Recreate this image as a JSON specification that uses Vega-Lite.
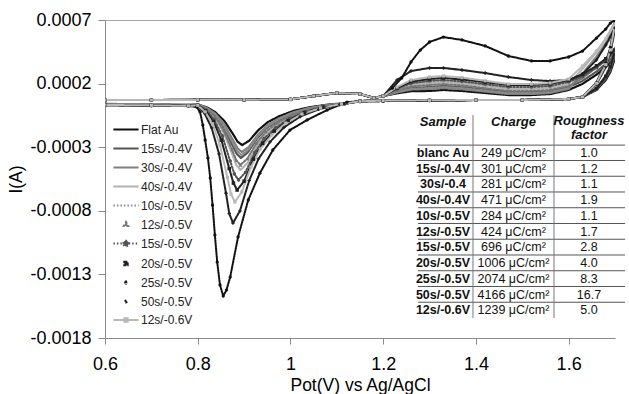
{
"$schema":"https://vega.github.io/schema/vega-lite/v6.json",
"width":510,"height":318,
"autosize":{"type":"none"},
"padding":{"left":105,"top":20,"right":14,"bottom":56},
"background":"white",
"config":{"view":{"stroke":null},"font":"Liberation Sans"},
"datasets":{
"cv":[
{"series":"Flat Au","pot":0.6,"cur":0.000071},{"series":"Flat Au","pot":0.7,"cur":0.000071},{"series":"Flat Au","pot":0.8,"cur":0.000072},{"series":"Flat Au","pot":0.9,"cur":0.000073},{"series":"Flat Au","pot":1.0,"cur":0.000076},{"series":"Flat Au","pot":1.05,"cur":0.000102},{"series":"Flat Au","pot":1.1,"cur":0.000126},{"series":"Flat Au","pot":1.15,"cur":0.000118},{"series":"Flat Au","pot":1.18,"cur":0.000087},{"series":"Flat Au","pot":1.2,"cur":0.000102},
{"series":"Flat Au","pot":1.23,"cur":0.000124},{"series":"Flat Au","pot":1.26,"cur":0.00014},{"series":"Flat Au","pot":1.3,"cur":0.000142},{"series":"Flat Au","pot":1.33,"cur":0.00015},{"series":"Flat Au","pot":1.37,"cur":0.000142},{"series":"Flat Au","pot":1.42,"cur":0.000126},{"series":"Flat Au","pot":1.47,"cur":0.00011},{"series":"Flat Au","pot":1.52,"cur":0.00011},{"series":"Flat Au","pot":1.56,"cur":0.000118},{"series":"Flat Au","pot":1.6,"cur":0.00015},{"series":"Flat Au","pot":1.63,"cur":0.000198},{"series":"Flat Au","pot":1.66,"cur":0.00027},{"series":"Flat Au","pot":1.68,"cur":0.000329},{"series":"Flat Au","pot":1.7,"cur":0.000401},
{"series":"Flat Au","pot":1.69,"cur":0.000291},{"series":"Flat Au","pot":1.68,"cur":0.000228},{"series":"Flat Au","pot":1.66,"cur":0.00015},{"series":"Flat Au","pot":1.63,"cur":0.000095},{"series":"Flat Au","pot":1.6,"cur":0.000079},{"series":"Flat Au","pot":1.5,"cur":0.000071},{"series":"Flat Au","pot":1.4,"cur":0.000071},{"series":"Flat Au","pot":1.3,"cur":0.000069},{"series":"Flat Au","pot":1.2,"cur":0.000066},{"series":"Flat Au","pot":1.15,"cur":0.000063},
{"series":"Flat Au","pot":1.126,"cur":0.000048},{"series":"Flat Au","pot":1.081,"cur":0.000035},{"series":"Flat Au","pot":1.041,"cur":0.000014},{"series":"Flat Au","pot":1.006,"cur":-0.000015},{"series":"Flat Au","pot":0.976,"cur":-0.000056},{"series":"Flat Au","pot":0.951,"cur":-0.000103},{"series":"Flat Au","pot":0.931,"cur":-0.000165},{"series":"Flat Au","pot":0.911,"cur":-0.000249},{"series":"Flat Au","pot":0.896,"cur":-0.000283},
{"series":"Flat Au","pot":0.886,"cur":-0.000257},{"series":"Flat Au","pot":0.877,"cur":-0.000202},{"series":"Flat Au","pot":0.858,"cur":-0.000096},{"series":"Flat Au","pot":0.838,"cur":-0.000025},{"series":"Flat Au","pot":0.819,"cur":0.000014},{"series":"Flat Au","pot":0.8,"cur":0.000036},{"series":"Flat Au","pot":0.78,"cur":0.000032},{"series":"Flat Au","pot":0.7,"cur":0.000036},{"series":"Flat Au","pot":0.6,"cur":0.00004},

{"series":"15s/-0.4V","pot":0.6,"cur":0.000071},{"series":"15s/-0.4V","pot":0.7,"cur":0.000071},{"series":"15s/-0.4V","pot":0.8,"cur":0.000072},{"series":"15s/-0.4V","pot":0.9,"cur":0.000073},{"series":"15s/-0.4V","pot":1.0,"cur":0.000076},{"series":"15s/-0.4V","pot":1.05,"cur":0.000102},{"series":"15s/-0.4V","pot":1.1,"cur":0.000126},{"series":"15s/-0.4V","pot":1.15,"cur":0.000118},{"series":"15s/-0.4V","pot":1.18,"cur":0.000087},{"series":"15s/-0.4V","pot":1.2,"cur":0.000102},
{"series":"15s/-0.4V","pot":1.23,"cur":0.000138},{"series":"15s/-0.4V","pot":1.26,"cur":0.000165},{"series":"15s/-0.4V","pot":1.3,"cur":0.000173},{"series":"15s/-0.4V","pot":1.33,"cur":0.000181},{"series":"15s/-0.4V","pot":1.37,"cur":0.000172},{"series":"15s/-0.4V","pot":1.42,"cur":0.000153},{"series":"15s/-0.4V","pot":1.47,"cur":0.000134},{"series":"15s/-0.4V","pot":1.52,"cur":0.000134},{"series":"15s/-0.4V","pot":1.56,"cur":0.000142},{"series":"15s/-0.4V","pot":1.6,"cur":0.000173},{"series":"15s/-0.4V","pot":1.63,"cur":0.000221},{"series":"15s/-0.4V","pot":1.66,"cur":0.000294},{"series":"15s/-0.4V","pot":1.68,"cur":0.000352},{"series":"15s/-0.4V","pot":1.7,"cur":0.000425},
{"series":"15s/-0.4V","pot":1.69,"cur":0.000307},{"series":"15s/-0.4V","pot":1.68,"cur":0.000239},{"series":"15s/-0.4V","pot":1.66,"cur":0.000154},{"series":"15s/-0.4V","pot":1.63,"cur":0.000095},{"series":"15s/-0.4V","pot":1.6,"cur":0.000079},{"series":"15s/-0.4V","pot":1.5,"cur":0.000071},{"series":"15s/-0.4V","pot":1.4,"cur":0.000071},{"series":"15s/-0.4V","pot":1.3,"cur":0.000069},{"series":"15s/-0.4V","pot":1.2,"cur":0.000066},{"series":"15s/-0.4V","pot":1.15,"cur":0.000063},
{"series":"15s/-0.4V","pot":1.123,"cur":0.000047},{"series":"15s/-0.4V","pot":1.078,"cur":0.000029},{"series":"15s/-0.4V","pot":1.038,"cur":0.000003},{"series":"15s/-0.4V","pot":1.003,"cur":-0.000037},{"series":"15s/-0.4V","pot":0.973,"cur":-0.00009},{"series":"15s/-0.4V","pot":0.948,"cur":-0.000151},{"series":"15s/-0.4V","pot":0.928,"cur":-0.000231},{"series":"15s/-0.4V","pot":0.908,"cur":-0.000341},{"series":"15s/-0.4V","pot":0.893,"cur":-0.000385},
{"series":"15s/-0.4V","pot":0.884,"cur":-0.000351},{"series":"15s/-0.4V","pot":0.874,"cur":-0.000279},{"series":"15s/-0.4V","pot":0.856,"cur":-0.000139},{"series":"15s/-0.4V","pot":0.837,"cur":-0.000045},{"series":"15s/-0.4V","pot":0.819,"cur":0.000006},{"series":"15s/-0.4V","pot":0.8,"cur":0.000032},{"series":"15s/-0.4V","pot":0.78,"cur":0.000028},{"series":"15s/-0.4V","pot":0.7,"cur":0.000032},{"series":"15s/-0.4V","pot":0.6,"cur":0.000036},

{"series":"30s/-0.4V","pot":0.6,"cur":0.000071},{"series":"30s/-0.4V","pot":0.7,"cur":0.000071},{"series":"30s/-0.4V","pot":0.8,"cur":0.000072},{"series":"30s/-0.4V","pot":0.9,"cur":0.000073},{"series":"30s/-0.4V","pot":1.0,"cur":0.000076},{"series":"30s/-0.4V","pot":1.05,"cur":0.000102},{"series":"30s/-0.4V","pot":1.1,"cur":0.000126},{"series":"30s/-0.4V","pot":1.15,"cur":0.000118},{"series":"30s/-0.4V","pot":1.18,"cur":0.000087},{"series":"30s/-0.4V","pot":1.2,"cur":0.000102},
{"series":"30s/-0.4V","pot":1.23,"cur":0.000131},{"series":"30s/-0.4V","pot":1.26,"cur":0.000153},{"series":"30s/-0.4V","pot":1.3,"cur":0.000158},{"series":"30s/-0.4V","pot":1.33,"cur":0.000165},{"series":"30s/-0.4V","pot":1.37,"cur":0.000156},{"series":"30s/-0.4V","pot":1.42,"cur":0.000137},{"series":"30s/-0.4V","pot":1.47,"cur":0.000118},{"series":"30s/-0.4V","pot":1.52,"cur":0.000118},{"series":"30s/-0.4V","pot":1.56,"cur":0.000126},{"series":"30s/-0.4V","pot":1.6,"cur":0.000158},{"series":"30s/-0.4V","pot":1.63,"cur":0.000279},{"series":"30s/-0.4V","pot":1.66,"cur":0.000412},{"series":"30s/-0.4V","pot":1.68,"cur":0.000519},{"series":"30s/-0.4V","pot":1.7,"cur":0.000653},
{"series":"30s/-0.4V","pot":1.69,"cur":0.000455},{"series":"30s/-0.4V","pot":1.68,"cur":0.000342},{"series":"30s/-0.4V","pot":1.66,"cur":0.0002},{"series":"30s/-0.4V","pot":1.63,"cur":0.000095},{"series":"30s/-0.4V","pot":1.6,"cur":0.000079},{"series":"30s/-0.4V","pot":1.5,"cur":0.000071},{"series":"30s/-0.4V","pot":1.4,"cur":0.000071},{"series":"30s/-0.4V","pot":1.3,"cur":0.000069},{"series":"30s/-0.4V","pot":1.2,"cur":0.000066},{"series":"30s/-0.4V","pot":1.15,"cur":0.000063},
{"series":"30s/-0.4V","pot":1.125,"cur":0.000047},{"series":"30s/-0.4V","pot":1.08,"cur":0.000032},{"series":"30s/-0.4V","pot":1.04,"cur":0.000008},{"series":"30s/-0.4V","pot":1.005,"cur":-0.000027},{"series":"30s/-0.4V","pot":0.975,"cur":-0.000074},{"series":"30s/-0.4V","pot":0.95,"cur":-0.000129},{"series":"30s/-0.4V","pot":0.93,"cur":-0.0002},{"series":"30s/-0.4V","pot":0.91,"cur":-0.000298},{"series":"30s/-0.4V","pot":0.895,"cur":-0.000338},
{"series":"30s/-0.4V","pot":0.886,"cur":-0.000308},{"series":"30s/-0.4V","pot":0.876,"cur":-0.000243},{"series":"30s/-0.4V","pot":0.857,"cur":-0.000119},{"series":"30s/-0.4V","pot":0.838,"cur":-0.000036},{"series":"30s/-0.4V","pot":0.819,"cur":0.00001},{"series":"30s/-0.4V","pot":0.8,"cur":0.000036},{"series":"30s/-0.4V","pot":0.78,"cur":0.000033},{"series":"30s/-0.4V","pot":0.7,"cur":0.000037},{"series":"30s/-0.4V","pot":0.6,"cur":0.000041},

{"series":"40s/-0.4V","pot":0.6,"cur":0.000071},{"series":"40s/-0.4V","pot":0.7,"cur":0.000071},{"series":"40s/-0.4V","pot":0.8,"cur":0.000072},{"series":"40s/-0.4V","pot":0.9,"cur":0.000073},{"series":"40s/-0.4V","pot":1.0,"cur":0.000076},{"series":"40s/-0.4V","pot":1.05,"cur":0.000102},{"series":"40s/-0.4V","pot":1.1,"cur":0.000126},{"series":"40s/-0.4V","pot":1.15,"cur":0.000118},{"series":"40s/-0.4V","pot":1.18,"cur":0.000087},{"series":"40s/-0.4V","pot":1.2,"cur":0.000102},
{"series":"40s/-0.4V","pot":1.23,"cur":0.000152},{"series":"40s/-0.4V","pot":1.26,"cur":0.000191},{"series":"40s/-0.4V","pot":1.3,"cur":0.000205},{"series":"40s/-0.4V","pot":1.33,"cur":0.000213},{"series":"40s/-0.4V","pot":1.37,"cur":0.000202},{"series":"40s/-0.4V","pot":1.42,"cur":0.00018},{"series":"40s/-0.4V","pot":1.47,"cur":0.000158},{"series":"40s/-0.4V","pot":1.52,"cur":0.000158},{"series":"40s/-0.4V","pot":1.56,"cur":0.000165},{"series":"40s/-0.4V","pot":1.6,"cur":0.000197},{"series":"40s/-0.4V","pot":1.63,"cur":0.000316},{"series":"40s/-0.4V","pot":1.66,"cur":0.000447},{"series":"40s/-0.4V","pot":1.68,"cur":0.000553},{"series":"40s/-0.4V","pot":1.7,"cur":0.000684},
{"series":"40s/-0.4V","pot":1.69,"cur":0.000475},{"series":"40s/-0.4V","pot":1.68,"cur":0.000356},{"series":"40s/-0.4V","pot":1.66,"cur":0.000206},{"series":"40s/-0.4V","pot":1.63,"cur":0.000095},{"series":"40s/-0.4V","pot":1.6,"cur":0.000079},{"series":"40s/-0.4V","pot":1.5,"cur":0.000071},{"series":"40s/-0.4V","pot":1.4,"cur":0.000071},{"series":"40s/-0.4V","pot":1.3,"cur":0.000069},{"series":"40s/-0.4V","pot":1.2,"cur":0.000066},{"series":"40s/-0.4V","pot":1.15,"cur":0.000063},
{"series":"40s/-0.4V","pot":1.122,"cur":0.000044},{"series":"40s/-0.4V","pot":1.077,"cur":0.000023},{"series":"40s/-0.4V","pot":1.037,"cur":-0.000009},{"series":"40s/-0.4V","pot":1.002,"cur":-0.000057},{"series":"40s/-0.4V","pot":0.972,"cur":-0.000121},{"series":"40s/-0.4V","pot":0.947,"cur":-0.000196},{"series":"40s/-0.4V","pot":0.927,"cur":-0.000292},{"series":"40s/-0.4V","pot":0.907,"cur":-0.000426},{"series":"40s/-0.4V","pot":0.892,"cur":-0.000479},
{"series":"40s/-0.4V","pot":0.883,"cur":-0.000438},{"series":"40s/-0.4V","pot":0.874,"cur":-0.00035},{"series":"40s/-0.4V","pot":0.855,"cur":-0.000178},{"series":"40s/-0.4V","pot":0.837,"cur":-0.000064},{"series":"40s/-0.4V","pot":0.818,"cur":-0.000002},{"series":"40s/-0.4V","pot":0.8,"cur":0.000033},{"series":"40s/-0.4V","pot":0.78,"cur":0.00003},{"series":"40s/-0.4V","pot":0.7,"cur":0.000033},{"series":"40s/-0.4V","pot":0.6,"cur":0.000037},

{"series":"10s/-0.5V","pot":0.6,"cur":0.000071},{"series":"10s/-0.5V","pot":0.7,"cur":0.000071},{"series":"10s/-0.5V","pot":0.8,"cur":0.000072},{"series":"10s/-0.5V","pot":0.9,"cur":0.000073},{"series":"10s/-0.5V","pot":1.0,"cur":0.000076},{"series":"10s/-0.5V","pot":1.05,"cur":0.000102},{"series":"10s/-0.5V","pot":1.1,"cur":0.000126},{"series":"10s/-0.5V","pot":1.15,"cur":0.000118},{"series":"10s/-0.5V","pot":1.18,"cur":0.000087},{"series":"10s/-0.5V","pot":1.2,"cur":0.000102},
{"series":"10s/-0.5V","pot":1.23,"cur":0.000134},{"series":"10s/-0.5V","pot":1.26,"cur":0.000159},{"series":"10s/-0.5V","pot":1.3,"cur":0.000165},{"series":"10s/-0.5V","pot":1.33,"cur":0.000173},{"series":"10s/-0.5V","pot":1.37,"cur":0.000164},{"series":"10s/-0.5V","pot":1.42,"cur":0.000145},{"series":"10s/-0.5V","pot":1.47,"cur":0.000126},{"series":"10s/-0.5V","pot":1.52,"cur":0.000126},{"series":"10s/-0.5V","pot":1.56,"cur":0.000134},{"series":"10s/-0.5V","pot":1.6,"cur":0.000165},{"series":"10s/-0.5V","pot":1.63,"cur":0.000275},{"series":"10s/-0.5V","pot":1.66,"cur":0.000398},{"series":"10s/-0.5V","pot":1.68,"cur":0.000498},{"series":"10s/-0.5V","pot":1.7,"cur":0.000621},
{"series":"10s/-0.5V","pot":1.69,"cur":0.000434},{"series":"10s/-0.5V","pot":1.68,"cur":0.000327},{"series":"10s/-0.5V","pot":1.66,"cur":0.000194},{"series":"10s/-0.5V","pot":1.63,"cur":0.000095},{"series":"10s/-0.5V","pot":1.6,"cur":0.000079},{"series":"10s/-0.5V","pot":1.5,"cur":0.000071},{"series":"10s/-0.5V","pot":1.4,"cur":0.000071},{"series":"10s/-0.5V","pot":1.3,"cur":0.000069},{"series":"10s/-0.5V","pot":1.2,"cur":0.000066},{"series":"10s/-0.5V","pot":1.15,"cur":0.000063},
{"series":"10s/-0.5V","pot":1.124,"cur":0.000047},{"series":"10s/-0.5V","pot":1.079,"cur":0.00003},{"series":"10s/-0.5V","pot":1.039,"cur":0.000005},{"series":"10s/-0.5V","pot":1.004,"cur":-0.000032},{"series":"10s/-0.5V","pot":0.974,"cur":-0.000082},{"series":"10s/-0.5V","pot":0.949,"cur":-0.00014},{"series":"10s/-0.5V","pot":0.929,"cur":-0.000216},{"series":"10s/-0.5V","pot":0.909,"cur":-0.00032},{"series":"10s/-0.5V","pot":0.894,"cur":-0.000361},
{"series":"10s/-0.5V","pot":0.885,"cur":-0.000329},{"series":"10s/-0.5V","pot":0.875,"cur":-0.000261},{"series":"10s/-0.5V","pot":0.856,"cur":-0.000129},{"series":"10s/-0.5V","pot":0.838,"cur":-0.000041},{"series":"10s/-0.5V","pot":0.819,"cur":0.000007},{"series":"10s/-0.5V","pot":0.8,"cur":0.000035},{"series":"10s/-0.5V","pot":0.78,"cur":0.000032},{"series":"10s/-0.5V","pot":0.7,"cur":0.000035},{"series":"10s/-0.5V","pot":0.6,"cur":0.000038},

{"series":"12s/-0.5V","pot":0.6,"cur":0.000071},{"series":"12s/-0.5V","pot":0.7,"cur":0.000071},{"series":"12s/-0.5V","pot":0.8,"cur":0.000072},{"series":"12s/-0.5V","pot":0.9,"cur":0.000073},{"series":"12s/-0.5V","pot":1.0,"cur":0.000076},{"series":"12s/-0.5V","pot":1.05,"cur":0.000102},{"series":"12s/-0.5V","pot":1.1,"cur":0.000126},{"series":"12s/-0.5V","pot":1.15,"cur":0.000118},{"series":"12s/-0.5V","pot":1.18,"cur":0.000087},{"series":"12s/-0.5V","pot":1.2,"cur":0.000102},
{"series":"12s/-0.5V","pot":1.23,"cur":0.000145},{"series":"12s/-0.5V","pot":1.26,"cur":0.000178},{"series":"12s/-0.5V","pot":1.3,"cur":0.000189},{"series":"12s/-0.5V","pot":1.33,"cur":0.000197},{"series":"12s/-0.5V","pot":1.37,"cur":0.000186},{"series":"12s/-0.5V","pot":1.42,"cur":0.000164},{"series":"12s/-0.5V","pot":1.47,"cur":0.000142},{"series":"12s/-0.5V","pot":1.52,"cur":0.000142},{"series":"12s/-0.5V","pot":1.56,"cur":0.00015},{"series":"12s/-0.5V","pot":1.6,"cur":0.000181},{"series":"12s/-0.5V","pot":1.63,"cur":0.000243},{"series":"12s/-0.5V","pot":1.66,"cur":0.000328},{"series":"12s/-0.5V","pot":1.68,"cur":0.000395},{"series":"12s/-0.5V","pot":1.7,"cur":0.00048},
{"series":"12s/-0.5V","pot":1.69,"cur":0.000342},{"series":"12s/-0.5V","pot":1.68,"cur":0.000264},{"series":"12s/-0.5V","pot":1.66,"cur":0.000165},{"series":"12s/-0.5V","pot":1.63,"cur":0.000095},{"series":"12s/-0.5V","pot":1.6,"cur":0.000079},{"series":"12s/-0.5V","pot":1.5,"cur":0.000071},{"series":"12s/-0.5V","pot":1.4,"cur":0.000071},{"series":"12s/-0.5V","pot":1.3,"cur":0.000069},{"series":"12s/-0.5V","pot":1.2,"cur":0.000066},{"series":"12s/-0.5V","pot":1.15,"cur":0.000063},
{"series":"12s/-0.5V","pot":1.122,"cur":0.000045},{"series":"12s/-0.5V","pot":1.077,"cur":0.000025},{"series":"12s/-0.5V","pot":1.037,"cur":-0.000004},{"series":"12s/-0.5V","pot":1.002,"cur":-0.000048},{"series":"12s/-0.5V","pot":0.972,"cur":-0.000108},{"series":"12s/-0.5V","pot":0.947,"cur":-0.000177},{"series":"12s/-0.5V","pot":0.927,"cur":-0.000267},{"series":"12s/-0.5V","pot":0.907,"cur":-0.00039},{"series":"12s/-0.5V","pot":0.892,"cur":-0.00044},
{"series":"12s/-0.5V","pot":0.883,"cur":-0.000401},{"series":"12s/-0.5V","pot":0.874,"cur":-0.00032},{"series":"12s/-0.5V","pot":0.855,"cur":-0.000162},{"series":"12s/-0.5V","pot":0.837,"cur":-0.000056},{"series":"12s/-0.5V","pot":0.818,"cur":0.000001},{"series":"12s/-0.5V","pot":0.8,"cur":0.000034},{"series":"12s/-0.5V","pot":0.78,"cur":0.000031},{"series":"12s/-0.5V","pot":0.7,"cur":0.000034},{"series":"12s/-0.5V","pot":0.6,"cur":0.000037},

{"series":"15s/-0.5V","pot":0.6,"cur":0.000071},{"series":"15s/-0.5V","pot":0.7,"cur":0.000071},{"series":"15s/-0.5V","pot":0.8,"cur":0.000072},{"series":"15s/-0.5V","pot":0.9,"cur":0.000073},{"series":"15s/-0.5V","pot":1.0,"cur":0.000076},{"series":"15s/-0.5V","pot":1.05,"cur":0.000102},{"series":"15s/-0.5V","pot":1.1,"cur":0.000126},{"series":"15s/-0.5V","pot":1.15,"cur":0.000118},{"series":"15s/-0.5V","pot":1.18,"cur":0.000087},{"series":"15s/-0.5V","pot":1.2,"cur":0.000102},
{"series":"15s/-0.5V","pot":1.23,"cur":0.000159},{"series":"15s/-0.5V","pot":1.26,"cur":0.000203},{"series":"15s/-0.5V","pot":1.3,"cur":0.00022},{"series":"15s/-0.5V","pot":1.33,"cur":0.000228},{"series":"15s/-0.5V","pot":1.37,"cur":0.000217},{"series":"15s/-0.5V","pot":1.42,"cur":0.000195},{"series":"15s/-0.5V","pot":1.47,"cur":0.000173},{"series":"15s/-0.5V","pot":1.52,"cur":0.000173},{"series":"15s/-0.5V","pot":1.56,"cur":0.000181},{"series":"15s/-0.5V","pot":1.6,"cur":0.000213},{"series":"15s/-0.5V","pot":1.63,"cur":0.000256},{"series":"15s/-0.5V","pot":1.66,"cur":0.000325},{"series":"15s/-0.5V","pot":1.68,"cur":0.00038},{"series":"15s/-0.5V","pot":1.7,"cur":0.000448},
{"series":"15s/-0.5V","pot":1.69,"cur":0.000322},{"series":"15s/-0.5V","pot":1.68,"cur":0.00025},{"series":"15s/-0.5V","pot":1.66,"cur":0.000159},{"series":"15s/-0.5V","pot":1.63,"cur":0.000095},{"series":"15s/-0.5V","pot":1.6,"cur":0.000079},{"series":"15s/-0.5V","pot":1.5,"cur":0.000071},{"series":"15s/-0.5V","pot":1.4,"cur":0.000071},{"series":"15s/-0.5V","pot":1.3,"cur":0.000069},{"series":"15s/-0.5V","pot":1.2,"cur":0.000066},{"series":"15s/-0.5V","pot":1.15,"cur":0.000063},
{"series":"15s/-0.5V","pot":1.118,"cur":0.000043},{"series":"15s/-0.5V","pot":1.073,"cur":0.000018},{"series":"15s/-0.5V","pot":1.033,"cur":-0.000019},{"series":"15s/-0.5V","pot":0.998,"cur":-0.000074},{"series":"15s/-0.5V","pot":0.968,"cur":-0.000147},{"series":"15s/-0.5V","pot":0.943,"cur":-0.000233},{"series":"15s/-0.5V","pot":0.923,"cur":-0.000343},{"series":"15s/-0.5V","pot":0.903,"cur":-0.000497},{"series":"15s/-0.5V","pot":0.888,"cur":-0.000558},
{"series":"15s/-0.5V","pot":0.879,"cur":-0.00051},{"series":"15s/-0.5V","pot":0.87,"cur":-0.000409},{"series":"15s/-0.5V","pot":0.853,"cur":-0.000211},{"series":"15s/-0.5V","pot":0.835,"cur":-0.00008},{"series":"15s/-0.5V","pot":0.818,"cur":-0.000008},{"series":"15s/-0.5V","pot":0.8,"cur":0.000032},{"series":"15s/-0.5V","pot":0.78,"cur":0.000028},{"series":"15s/-0.5V","pot":0.7,"cur":0.00003},{"series":"15s/-0.5V","pot":0.6,"cur":0.000033},

{"series":"20s/-0.5V","pot":0.6,"cur":0.000071},{"series":"20s/-0.5V","pot":0.7,"cur":0.000071},{"series":"20s/-0.5V","pot":0.8,"cur":0.000072},{"series":"20s/-0.5V","pot":0.9,"cur":0.000073},{"series":"20s/-0.5V","pot":1.0,"cur":0.000076},{"series":"20s/-0.5V","pot":1.05,"cur":0.000102},{"series":"20s/-0.5V","pot":1.1,"cur":0.000126},{"series":"20s/-0.5V","pot":1.15,"cur":0.000118},{"series":"20s/-0.5V","pot":1.18,"cur":0.000087},{"series":"20s/-0.5V","pot":1.2,"cur":0.000102},
{"series":"20s/-0.5V","pot":1.23,"cur":0.000166},{"series":"20s/-0.5V","pot":1.26,"cur":0.000216},{"series":"20s/-0.5V","pot":1.3,"cur":0.000236},{"series":"20s/-0.5V","pot":1.33,"cur":0.000244},{"series":"20s/-0.5V","pot":1.37,"cur":0.000233},{"series":"20s/-0.5V","pot":1.42,"cur":0.000211},{"series":"20s/-0.5V","pot":1.47,"cur":0.000189},{"series":"20s/-0.5V","pot":1.52,"cur":0.000189},{"series":"20s/-0.5V","pot":1.56,"cur":0.000197},{"series":"20s/-0.5V","pot":1.6,"cur":0.000228},{"series":"20s/-0.5V","pot":1.63,"cur":0.000272},{"series":"20s/-0.5V","pot":1.66,"cur":0.00034},{"series":"20s/-0.5V","pot":1.68,"cur":0.000395},{"series":"20s/-0.5V","pot":1.7,"cur":0.000464},
{"series":"20s/-0.5V","pot":1.69,"cur":0.000332},{"series":"20s/-0.5V","pot":1.68,"cur":0.000257},{"series":"20s/-0.5V","pot":1.66,"cur":0.000162},{"series":"20s/-0.5V","pot":1.63,"cur":0.000095},{"series":"20s/-0.5V","pot":1.6,"cur":0.000079},{"series":"20s/-0.5V","pot":1.5,"cur":0.000071},{"series":"20s/-0.5V","pot":1.4,"cur":0.000071},{"series":"20s/-0.5V","pot":1.3,"cur":0.000069},{"series":"20s/-0.5V","pot":1.2,"cur":0.000066},{"series":"20s/-0.5V","pot":1.15,"cur":0.000063},
{"series":"20s/-0.5V","pot":1.115,"cur":0.000041},{"series":"20s/-0.5V","pot":1.07,"cur":0.000014},{"series":"20s/-0.5V","pot":1.03,"cur":-0.000028},{"series":"20s/-0.5V","pot":0.995,"cur":-0.00009},{"series":"20s/-0.5V","pot":0.965,"cur":-0.000173},{"series":"20s/-0.5V","pot":0.94,"cur":-0.00027},{"series":"20s/-0.5V","pot":0.92,"cur":-0.000394},{"series":"20s/-0.5V","pot":0.9,"cur":-0.000567},{"series":"20s/-0.5V","pot":0.885,"cur":-0.000637},
{"series":"20s/-0.5V","pot":0.877,"cur":-0.000582},{"series":"20s/-0.5V","pot":0.868,"cur":-0.000468},{"series":"20s/-0.5V","pot":0.851,"cur":-0.000244},{"series":"20s/-0.5V","pot":0.834,"cur":-0.000096},{"series":"20s/-0.5V","pot":0.817,"cur":-0.000015},{"series":"20s/-0.5V","pot":0.8,"cur":0.00003},{"series":"20s/-0.5V","pot":0.78,"cur":0.000026},{"series":"20s/-0.5V","pot":0.7,"cur":0.000029},{"series":"20s/-0.5V","pot":0.6,"cur":0.000032},

{"series":"25s/-0.5V","pot":0.6,"cur":0.000071},{"series":"25s/-0.5V","pot":0.7,"cur":0.000071},{"series":"25s/-0.5V","pot":0.8,"cur":0.000072},{"series":"25s/-0.5V","pot":0.9,"cur":0.000073},{"series":"25s/-0.5V","pot":1.0,"cur":0.000076},{"series":"25s/-0.5V","pot":1.05,"cur":0.000102},{"series":"25s/-0.5V","pot":1.1,"cur":0.000126},{"series":"25s/-0.5V","pot":1.15,"cur":0.000118},{"series":"25s/-0.5V","pot":1.18,"cur":0.000087},{"series":"25s/-0.5V","pot":1.2,"cur":0.000102},
{"series":"25s/-0.5V","pot":1.23,"cur":0.000228},{"series":"25s/-0.5V","pot":1.26,"cur":0.000299},{"series":"25s/-0.5V","pot":1.3,"cur":0.000323},{"series":"25s/-0.5V","pot":1.33,"cur":0.000323},{"series":"25s/-0.5V","pot":1.37,"cur":0.000307},{"series":"25s/-0.5V","pot":1.42,"cur":0.000283},{"series":"25s/-0.5V","pot":1.47,"cur":0.000252},{"series":"25s/-0.5V","pot":1.52,"cur":0.000228},{"series":"25s/-0.5V","pot":1.56,"cur":0.00022},{"series":"25s/-0.5V","pot":1.6,"cur":0.000228},{"series":"25s/-0.5V","pot":1.63,"cur":0.000275},{"series":"25s/-0.5V","pot":1.66,"cur":0.000386},{"series":"25s/-0.5V","pot":1.68,"cur":0.000503},{"series":"25s/-0.5V","pot":1.7,"cur":0.000637},
{"series":"25s/-0.5V","pot":1.69,"cur":0.000444},{"series":"25s/-0.5V","pot":1.68,"cur":0.000334},{"series":"25s/-0.5V","pot":1.66,"cur":0.000197},{"series":"25s/-0.5V","pot":1.63,"cur":0.000095},{"series":"25s/-0.5V","pot":1.6,"cur":0.000079},{"series":"25s/-0.5V","pot":1.5,"cur":0.000071},{"series":"25s/-0.5V","pot":1.4,"cur":0.000071},{"series":"25s/-0.5V","pot":1.3,"cur":0.000067},{"series":"25s/-0.5V","pot":1.2,"cur":0.000063},{"series":"25s/-0.5V","pot":1.15,"cur":0.000059},
{"series":"25s/-0.5V","pot":1.106,"cur":0.000036},{"series":"25s/-0.5V","pot":1.061,"cur":-0.000002},{"series":"25s/-0.5V","pot":1.021,"cur":-0.000059},{"series":"25s/-0.5V","pot":0.986,"cur":-0.000144},{"series":"25s/-0.5V","pot":0.956,"cur":-0.000258},{"series":"25s/-0.5V","pot":0.931,"cur":-0.000392},{"series":"25s/-0.5V","pot":0.911,"cur":-0.000563},{"series":"25s/-0.5V","pot":0.891,"cur":-0.000801},{"series":"25s/-0.5V","pot":0.876,"cur":-0.000896},
{"series":"25s/-0.5V","pot":0.868,"cur":-0.000821},{"series":"25s/-0.5V","pot":0.861,"cur":-0.000662},{"series":"25s/-0.5V","pot":0.846,"cur":-0.000353},{"series":"25s/-0.5V","pot":0.83,"cur":-0.000148},{"series":"25s/-0.5V","pot":0.815,"cur":-0.000035},{"series":"25s/-0.5V","pot":0.8,"cur":0.000028},{"series":"25s/-0.5V","pot":0.78,"cur":0.000024},{"series":"25s/-0.5V","pot":0.7,"cur":0.000025},{"series":"25s/-0.5V","pot":0.6,"cur":0.000029},

{"series":"50s/-0.5V","pot":0.6,"cur":0.000071},{"series":"50s/-0.5V","pot":0.7,"cur":0.000071},{"series":"50s/-0.5V","pot":0.8,"cur":0.000072},{"series":"50s/-0.5V","pot":0.9,"cur":0.000073},{"series":"50s/-0.5V","pot":1.0,"cur":0.000076},{"series":"50s/-0.5V","pot":1.05,"cur":0.000102},{"series":"50s/-0.5V","pot":1.1,"cur":0.000126},{"series":"50s/-0.5V","pot":1.15,"cur":0.000118},{"series":"50s/-0.5V","pot":1.18,"cur":0.000087},{"series":"50s/-0.5V","pot":1.2,"cur":0.000102},
{"series":"50s/-0.5V","pot":1.22,"cur":0.000165},{"series":"50s/-0.5V","pot":1.24,"cur":0.000244},{"series":"50s/-0.5V","pot":1.26,"cur":0.00037},{"series":"50s/-0.5V","pot":1.28,"cur":0.000464},{"series":"50s/-0.5V","pot":1.3,"cur":0.000527},{"series":"50s/-0.5V","pot":1.33,"cur":0.000566},{"series":"50s/-0.5V","pot":1.37,"cur":0.000543},{"series":"50s/-0.5V","pot":1.42,"cur":0.000496},{"series":"50s/-0.5V","pot":1.47,"cur":0.000417},{"series":"50s/-0.5V","pot":1.52,"cur":0.000378},{"series":"50s/-0.5V","pot":1.56,"cur":0.000378},{"series":"50s/-0.5V","pot":1.6,"cur":0.000409},{"series":"50s/-0.5V","pot":1.63,"cur":0.000456},{"series":"50s/-0.5V","pot":1.66,"cur":0.000558},{"series":"50s/-0.5V","pot":1.68,"cur":0.000629},{"series":"50s/-0.5V","pot":1.69,"cur":0.000676},{"series":"50s/-0.5V","pot":1.7,"cur":0.0007},
{"series":"50s/-0.5V","pot":1.69,"cur":0.000485},{"series":"50s/-0.5V","pot":1.68,"cur":0.000363},{"series":"50s/-0.5V","pot":1.66,"cur":0.000209},{"series":"50s/-0.5V","pot":1.63,"cur":0.000095},{"series":"50s/-0.5V","pot":1.6,"cur":0.000079},{"series":"50s/-0.5V","pot":1.5,"cur":0.000071},{"series":"50s/-0.5V","pot":1.4,"cur":0.000071},{"series":"50s/-0.5V","pot":1.3,"cur":0.000067},{"series":"50s/-0.5V","pot":1.2,"cur":0.000063},{"series":"50s/-0.5V","pot":1.15,"cur":0.000059},
{"series":"50s/-0.5V","pot":1.122,"cur":0.000055},{"series":"50s/-0.5V","pot":1.079,"cur":-0.000008},{"series":"50s/-0.5V","pot":1.036,"cur":-0.000086},{"series":"50s/-0.5V","pot":0.999,"cur":-0.000165},{"series":"50s/-0.5V","pot":0.962,"cur":-0.000322},{"series":"50s/-0.5V","pot":0.934,"cur":-0.000504},{"series":"50s/-0.5V","pot":0.909,"cur":-0.000715},{"series":"50s/-0.5V","pot":0.887,"cur":-0.001006},{"series":"50s/-0.5V","pot":0.87,"cur":-0.001321},{"series":"50s/-0.5V","pot":0.862,"cur":-0.001423},{"series":"50s/-0.5V","pot":0.855,"cur":-0.00147},
{"series":"50s/-0.5V","pot":0.848,"cur":-0.001383},{"series":"50s/-0.5V","pot":0.842,"cur":-0.001203},{"series":"50s/-0.5V","pot":0.837,"cur":-0.00099},{"series":"50s/-0.5V","pot":0.832,"cur":-0.000755},{"series":"50s/-0.5V","pot":0.827,"cur":-0.000542},{"series":"50s/-0.5V","pot":0.822,"cur":-0.000385},{"series":"50s/-0.5V","pot":0.816,"cur":-0.000243},{"series":"50s/-0.5V","pot":0.811,"cur":-0.000126},{"series":"50s/-0.5V","pot":0.805,"cur":-0.000023},{"series":"50s/-0.5V","pot":0.798,"cur":0.000016},{"series":"50s/-0.5V","pot":0.78,"cur":0.000024},{"series":"50s/-0.5V","pot":0.7,"cur":0.000028},{"series":"50s/-0.5V","pot":0.6,"cur":0.000032},

{"series":"12s/-0.6V","pot":0.6,"cur":0.000071},{"series":"12s/-0.6V","pot":0.7,"cur":0.000071},{"series":"12s/-0.6V","pot":0.8,"cur":0.000072},{"series":"12s/-0.6V","pot":0.9,"cur":0.000073},{"series":"12s/-0.6V","pot":1.0,"cur":0.000076},{"series":"12s/-0.6V","pot":1.05,"cur":0.000102},{"series":"12s/-0.6V","pot":1.1,"cur":0.000126},{"series":"12s/-0.6V","pot":1.15,"cur":0.000118},{"series":"12s/-0.6V","pot":1.18,"cur":0.000087},{"series":"12s/-0.6V","pot":1.2,"cur":0.000102},
{"series":"12s/-0.6V","pot":1.23,"cur":0.000173},{"series":"12s/-0.6V","pot":1.26,"cur":0.000228},{"series":"12s/-0.6V","pot":1.3,"cur":0.000252},{"series":"12s/-0.6V","pot":1.33,"cur":0.00026},{"series":"12s/-0.6V","pot":1.37,"cur":0.000247},{"series":"12s/-0.6V","pot":1.42,"cur":0.000222},{"series":"12s/-0.6V","pot":1.47,"cur":0.000197},{"series":"12s/-0.6V","pot":1.52,"cur":0.000197},{"series":"12s/-0.6V","pot":1.56,"cur":0.000205},{"series":"12s/-0.6V","pot":1.6,"cur":0.000236},{"series":"12s/-0.6V","pot":1.63,"cur":0.000338},{"series":"12s/-0.6V","pot":1.66,"cur":0.000456},{"series":"12s/-0.6V","pot":1.68,"cur":0.000551},{"series":"12s/-0.6V","pot":1.7,"cur":0.000669},
{"series":"12s/-0.6V","pot":1.69,"cur":0.000465},{"series":"12s/-0.6V","pot":1.68,"cur":0.000349},{"series":"12s/-0.6V","pot":1.66,"cur":0.000203},{"series":"12s/-0.6V","pot":1.63,"cur":0.000095},{"series":"12s/-0.6V","pot":1.6,"cur":0.000079},{"series":"12s/-0.6V","pot":1.5,"cur":0.000071},{"series":"12s/-0.6V","pot":1.4,"cur":0.000071},{"series":"12s/-0.6V","pot":1.3,"cur":0.000069},{"series":"12s/-0.6V","pot":1.2,"cur":0.000066},{"series":"12s/-0.6V","pot":1.15,"cur":0.000061},
{"series":"12s/-0.6V","pot":1.11,"cur":0.00004},{"series":"12s/-0.6V","pot":1.065,"cur":0.000008},{"series":"12s/-0.6V","pot":1.025,"cur":-0.000039},{"series":"12s/-0.6V","pot":0.99,"cur":-0.00011},{"series":"12s/-0.6V","pot":0.96,"cur":-0.000204},{"series":"12s/-0.6V","pot":0.935,"cur":-0.000314},{"series":"12s/-0.6V","pot":0.915,"cur":-0.000456},{"series":"12s/-0.6V","pot":0.895,"cur":-0.000652},{"series":"12s/-0.6V","pot":0.88,"cur":-0.000731},
{"series":"12s/-0.6V","pot":0.872,"cur":-0.00067},{"series":"12s/-0.6V","pot":0.864,"cur":-0.000538},{"series":"12s/-0.6V","pot":0.848,"cur":-0.000284},{"series":"12s/-0.6V","pot":0.832,"cur":-0.000115},{"series":"12s/-0.6V","pot":0.816,"cur":-0.000022},{"series":"12s/-0.6V","pot":0.8,"cur":0.000029},{"series":"12s/-0.6V","pot":0.78,"cur":0.000025},{"series":"12s/-0.6V","pot":0.7,"cur":0.000029},{"series":"12s/-0.6V","pot":0.6,"cur":0.000032}
],
"table":[
{"row":0,"sample":"blanc Au","charge":"249 μC/cm²","rf":"1.0"},
{"row":1,"sample":"15s/-0.4V","charge":"301 μC/cm²","rf":"1.2"},
{"row":2,"sample":"30s/-0.4","charge":"281 μC/cm²","rf":"1.1"},
{"row":3,"sample":"40s/-0.4V","charge":"471 μC/cm²","rf":"1.9"},
{"row":4,"sample":"10s/-0.5V","charge":"284 μC/cm²","rf":"1.1"},
{"row":5,"sample":"12s/-0.5V","charge":"424 μC/cm²","rf":"1.7"},
{"row":6,"sample":"15s/-0.5V","charge":"696 μC/cm²","rf":"2.8"},
{"row":7,"sample":"20s/-0.5V","charge":"1006 μC/cm²","rf":"4.0"},
{"row":8,"sample":"25s/-0.5V","charge":"2074 μC/cm²","rf":"8.3"},
{"row":9,"sample":"50s/-0.5V","charge":"4166 μC/cm²","rf":"16.7"},
{"row":10,"sample":"12s/-0.6V","charge":"1239 μC/cm²","rf":"5.0"}
]
},
"layer":[
{
"data":{"name":"cv"},
"layer":[
{
"mark":{"type":"line","strokeJoin":"round","strokeCap":"round","clip":true},
"encoding":{
"x":{"field":"pot","type":"quantitative","scale":{"domain":[0.6,1.7],"nice":false,"zero":false},
 "axis":{"title":"Pot(V) vs Ag/AgCl","values":[0.6,0.8,1,1.2,1.4,1.6],"labelExpr":"'' + datum.value","labelFlush":false,"grid":false,"tickSize":6,"labelPadding":11,"titlePadding":3,"labelFontSize":18,"titleFontSize":17.5,"titleFontWeight":"normal","labelFont":"Liberation Sans","titleFont":"Liberation Sans","domainColor":"#8a8a8a","tickColor":"#8a8a8a","labelColor":"#000","titleColor":"#000"}},
"y":{"field":"cur","type":"quantitative","scale":{"domain":[-0.0018,0.0007],"nice":false,"zero":false},
 "axis":{"title":"I(A)","values":[-0.0018,-0.0013,-0.0008,-0.0003,0.0002,0.0007],"labelExpr":"'' + datum.value","grid":true,"gridColor":{"condition":{"test":"datum.value > 0.00069","value":"#a8a8a8"},"value":"transparent"},"tickSize":7,"labelPadding":7,"titlePadding":4,"labelFontSize":18,"titleFontSize":17.5,"titleFontWeight":"normal","labelFont":"Liberation Sans","titleFont":"Liberation Sans","domainColor":"#8a8a8a","tickColor":"#8a8a8a","labelColor":"#000","titleColor":"#000"}},
"color":{"field":"series","type":"nominal",
 "scale":{"domain":["Flat Au","15s/-0.4V","30s/-0.4V","40s/-0.4V","10s/-0.5V","12s/-0.5V","15s/-0.5V","20s/-0.5V","25s/-0.5V","50s/-0.5V","12s/-0.6V"],
 "range":["#111111","#555555","#808080","#b3b3b3","#8a8a8a","#777777","#555555","#222222","#222222","#111111","#b8b8b8"]},
 "legend":{"orient":"none","legendX":13.5,"legendY":102,"title":null,"padding":0,"symbolSize":144,"symbolType":"stroke","labelFontSize":12,"labelFont":"Liberation Sans","labelColor":"#222","labelOffset":7.5,"rowPadding":5,
  "encode":{"symbols":{"update":{
   "shape":{"signal":"['M-2.1,0H2.1','M-2.1,0H2.1','M-2.1,0H2.1','M-2.1,0H2.1','M-2.1,0H2.1','M0,-0.4L0.35,0.25L-0.35,0.25Z','M-2.1,0H-0.45M0.45,0H2.1M-0.45,0A0.45,0.45,0,1,1,0.45,0A0.45,0.45,0,1,1,-0.45,0','M-0.28,-0.28H0.28V0.28H-0.28Z','M-0.32,0H0.32M0,-0.32V0.32','M-0.15,0A0.15,0.15,0,1,1,0.15,0A0.15,0.15,0,1,1,-0.15,0','M-2.1,0H2.1M-0.28,-0.28H0.28V0.28H-0.28Z'][datum.index]"},
   "stroke":{"signal":"['#111111','#555555','#808080','#b3b3b3','#8a8a8a','#777777','#666666','#111111','#111111','#111111','#b8b8b8'][datum.index]"},
   "fill":{"signal":"['transparent','transparent','transparent','transparent','transparent','#999999','transparent','#111111','transparent','#111111','#b8b8b8'][datum.index]"},
   "strokeWidth":{"signal":"[2.5,2.5,2.5,2.5,1.5,0.8,1.2,0.6,1.2,0.6,2][datum.index]"},
   "strokeDash":{"signal":"[[1,0],[1,0],[1,0],[1,0],[1.5,2],[1,0],[1.5,1.5],[1,0],[1,0],[1,0],[1,0]][datum.index]"},
   "opacity":{"value":1}
  }}}}},
"strokeWidth":{"field":"series","type":"ordinal","legend":null,
 "scale":{"domain":["Flat Au","15s/-0.4V","30s/-0.4V","40s/-0.4V","10s/-0.5V","12s/-0.5V","15s/-0.5V","20s/-0.5V","25s/-0.5V","50s/-0.5V","12s/-0.6V"],"range":[2.2,2,2,2,1.5,1.2,1.4,1.6,1.4,1.3,2]}},
"strokeDash":{"field":"series","type":"nominal","legend":null,
 "scale":{"domain":["Flat Au","15s/-0.4V","30s/-0.4V","40s/-0.4V","10s/-0.5V","12s/-0.5V","15s/-0.5V","20s/-0.5V","25s/-0.5V","50s/-0.5V","12s/-0.6V"],"range":[[1,0],[1,0],[1,0],[1,0],[1.5,2],[2,2],[1.5,2],[3,1],[2.5,1],[1.5,1.2],[1,0]]}},
"order":{"value":null}
}
},
{
"transform":[{"filter":{"field":"series","oneOf":["12s/-0.5V","15s/-0.5V","20s/-0.5V","25s/-0.5V","50s/-0.5V","12s/-0.6V"]}}],
"mark":{"type":"point","filled":true,"opacity":1,"clip":true},
"encoding":{
"x":{"field":"pot","type":"quantitative"},
"y":{"field":"cur","type":"quantitative"},
"color":{"field":"series","type":"nominal"},
"shape":{"field":"series","type":"nominal","legend":null,"scale":{"domain":["12s/-0.5V","15s/-0.5V","20s/-0.5V","25s/-0.5V","50s/-0.5V","12s/-0.6V"],"range":["triangle-up","circle","square","cross","circle","square"]}},
"size":{"field":"series","type":"ordinal","legend":null,"scale":{"domain":["12s/-0.5V","15s/-0.5V","20s/-0.5V","25s/-0.5V","50s/-0.5V","12s/-0.6V"],"range":[14,10,10,14,5,8]}}
}
}
]
},
{
"data":{"name":"table"},
"layer":[
{"mark":{"type":"text","font":"Liberation Sans","fontWeight":"bold","fontSize":12.5,"color":"#111","baseline":"middle","align":"center"},
 "encoding":{"x":{"datum":1.329},"y":{"field":"row","type":"quantitative","scale":{"domain":[-8.444,11.746],"reverse":true,"nice":false,"zero":false},"axis":null},"text":{"field":"sample"}}},
{"mark":{"type":"text","font":"Liberation Sans","fontSize":12.5,"color":"#111","baseline":"middle","align":"center"},
 "encoding":{"x":{"datum":1.481},"y":{"field":"row","type":"quantitative","axis":null},"text":{"field":"charge"}}},
{"mark":{"type":"text","font":"Liberation Sans","fontSize":12.5,"color":"#111","baseline":"middle","align":"center"},
 "encoding":{"x":{"datum":1.6439},"y":{"field":"row","type":"quantitative","axis":null},"text":{"field":"rf"}}},
{"transform":[{"filter":"datum.row < 10"}],
 "mark":{"type":"rule","color":"#555","strokeWidth":1,"yOffset":7.5},
 "encoding":{"x":{"datum":1.2751},"x2":{"datum":1.7216},"y":{"field":"row","type":"quantitative","axis":null}}},
{"transform":[{"filter":"datum.row == 0"}],
 "mark":{"type":"rule","color":"#555","strokeWidth":1},
 "encoding":{"x":{"datum":1.2751},"x2":{"datum":1.7216},"y":{"datum":-0.5}}},
{"transform":[{"filter":"datum.row == 0"}],
 "mark":{"type":"rule","color":"#777","strokeWidth":1},
 "encoding":{"x":{"datum":1.3937},"y":{"datum":-2.41},"y2":{"datum":10.48}}},
{"transform":[{"filter":"datum.row == 0"}],
 "mark":{"type":"rule","color":"#777","strokeWidth":1},
 "encoding":{"x":{"datum":1.5684},"y":{"datum":-2.41},"y2":{"datum":10.48}}},
{"transform":[{"filter":"datum.row == 0"}],
 "mark":{"type":"text","text":"Sample","font":"Liberation Sans","fontWeight":"bold","fontStyle":"italic","fontSize":13,"color":"#111","baseline":"middle","align":"center"},
 "encoding":{"x":{"datum":1.329},"y":{"datum":-1.968}}},
{"transform":[{"filter":"datum.row == 0"}],
 "mark":{"type":"text","text":"Charge","font":"Liberation Sans","fontWeight":"bold","fontStyle":"italic","fontSize":13,"color":"#111","baseline":"middle","align":"center"},
 "encoding":{"x":{"datum":1.481},"y":{"datum":-1.968}}},
{"transform":[{"filter":"datum.row == 0"}],
 "mark":{"type":"text","text":"Roughness","font":"Liberation Sans","fontWeight":"bold","fontStyle":"italic","fontSize":13,"color":"#111","baseline":"middle","align":"center"},
 "encoding":{"x":{"datum":1.6439},"y":{"datum":-2.03}}},
{"transform":[{"filter":"datum.row == 0"}],
 "mark":{"type":"text","text":"factor","font":"Liberation Sans","fontWeight":"bold","fontStyle":"italic","fontSize":13,"color":"#111","baseline":"middle","align":"center"},
 "encoding":{"x":{"datum":1.6439},"y":{"datum":-1.143}}}
]
}
],
"resolve":{"scale":{"y":"independent"}}
}
